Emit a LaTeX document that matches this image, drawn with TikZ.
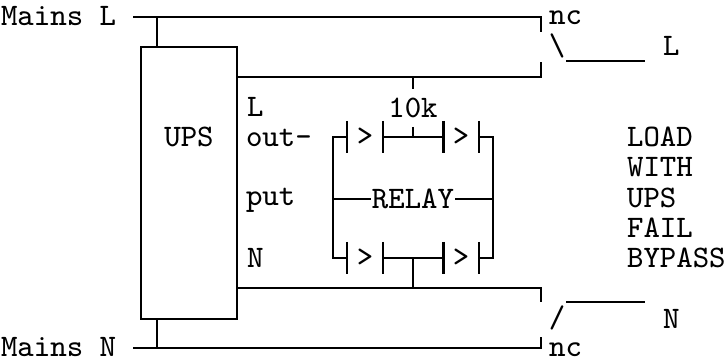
\documentclass[tikz,border=0pt]{standalone}
\usepackage{fontspec}
\usetikzlibrary{arrows}

\begin{document}
\begin{tikzpicture}[x=0.01cm,y=-0.01cm,line width=0.6pt,
    txt node/.style={font=\ttfamily\fontsize{8.9}{10}\selectfont,inner sep=0pt},
    side node/.style={txt node,anchor=base west},
    contact node/.style={txt node,minimum width=0.33cm,minimum height=0.3cm}]
\useasboundingbox (0,0) rectangle (725,360);

\node[side node] (mainsL) at (0,25) {Mains L};
\node[side node] (mainsN) at (0,356) {Mains N};
\node[side node] (ncL) at (548,24) {nc};
\node[side node] (ncN) at (548,356) {nc};
\node[txt node] (hingeL) at (557,46) {\textbackslash};
\node[txt node] (hingeN) at (557,318) {/};
\node[side node] (loadL) at (662,55) {L};
\node[side node] (loadN) at (662,328) {N};

\node[draw,minimum width=0.96cm,minimum height=2.72cm,inner sep=0pt] (upsbox) at (189,183) {};
\node[txt node,anchor=base] (ups) at (189,146) {UPS};
\node[side node] (outL) at (246,116) {L};
\node[side node] (out) at (245,146) {out-};
\node[side node] (put) at (245,205) {put};
\node[side node] (outN) at (246,267) {N};

\node[side node] (load) at (626,146) {LOAD};
\node[side node] (with) at (626,176) {WITH};
\node[side node] (upsR) at (626,207) {UPS};
\node[side node] (fail) at (626,237) {FAIL};
\node[side node] (bypass) at (626,267) {BYPASS};

% relay contacts
\node[contact node] (kL1) at (365,137) {>};
\node[contact node] (kL2) at (461,137) {>};
\node[contact node] (kN1) at (365,258) {>};
\node[contact node] (kN2) at (461,258) {>};
\node[txt node] (relay) at (413,199) {RELAY};
\node[txt node,inner ysep=0.08cm] (res) at (413,108) {10k};

\coordinate (inL) at (133,17);
\coordinate (tapL) at (157,17);
\coordinate (cL1) at (541,17);
\coordinate (cL2) at (541,32);
\coordinate (oL1) at (541,77);
\coordinate (oL2) at (541,62);
\coordinate (oN1) at (541,288);
\coordinate (oN2) at (541,302);
\coordinate (inN) at (133,348);
\coordinate (tapN) at (157,348);
\coordinate (cN1) at (541,348);
\coordinate (cN2) at (541,337);
\coordinate (bladeL) at (566,61);
\coordinate (endL) at (645,61);
\coordinate (bladeN) at (566,302);
\coordinate (endN) at (645,302);
\coordinate (rTL) at (333,137);
\coordinate (rTR) at (493,137);
\coordinate (rBL) at (333,258);
\coordinate (rBR) at (493,258);
\coordinate (rTap) at (413,137);
\coordinate (rTop) at (413,77);
\coordinate (rBot) at (413,258);
\coordinate (rBase) at (413,288);

\draw (inL) -- (cL1) -- (cL2);
\draw (tapL) -- (tapL |- upsbox.north);
\draw (upsbox.east |- oL1) -- (oL1) -- (oL2);
\draw (upsbox.east |- oN1) -- (oN1) -- (oN2);
\draw (inN) -- (cN1) -- (cN2);
\draw (tapN) -- (tapN |- upsbox.south);
\draw (bladeL) -- (endL);
\draw (bladeN) -- (endN);

\foreach \k in {kL1,kL2,kN1,kN2}
  \draw (\k.north west) -- (\k.south west) (\k.north east) -- (\k.south east);
\draw (kL1.west) -- (rTL) -- (rBL) -- (kN1.west);
\draw (kL2.east) -- (rTR) -- (rBR) -- (kN2.east);
\draw (kL1.east) -- (kL2.west);
\draw (kN1.east) -- (kN2.west);
\draw (rTL |- relay) -- (relay.west);
\draw (relay.east) -- (rTR |- relay);
\draw (rTop) -- (res.north);
\draw (res.south) -- (rTap);
\draw (rBot) -- (rBase);

\end{tikzpicture}
\end{document}
